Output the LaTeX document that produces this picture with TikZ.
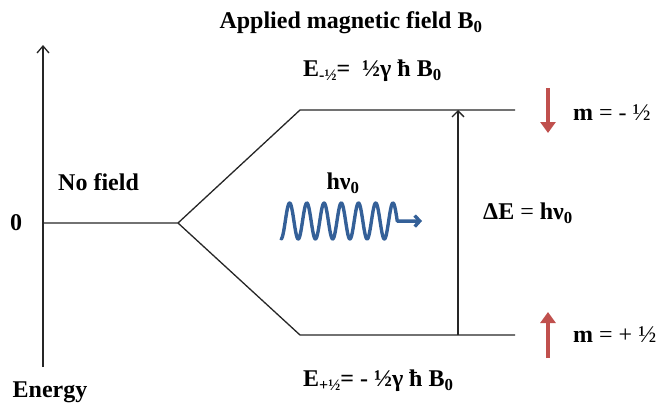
\documentclass[tikz,border=0pt]{standalone}
\usepackage{fontspec}
\setmainfont{Liberation Serif}
\usetikzlibrary{arrows.meta}
\definecolor{spinred}{RGB}{192,80,77}
\definecolor{waveblue}{RGB}{52,96,152}
\newcommand{\sub}[1]{\raisebox{-0.35ex}{\fontsize{16}{16}\selectfont #1}}
\begin{document}
\begin{tikzpicture}[x=1pt,y=-1pt,
  lvl/.style={line width=1.3pt, black!85},
  lbl/.style={inner sep=0pt, anchor=west, font=\bfseries\fontsize{24}{26}\selectfont},
  spinarrow/.style={line width=3.2pt, spinred, -{Triangle[length=11pt,width=15pt]}},
  wavestyle/.style={line width=3.4pt, waveblue, line cap=round, line join=round, -{Straight Barb[length=5pt,width=11pt]}}]
\useasboundingbox (0,0) rectangle (666,405);
% coordinates
\coordinate (axb) at (43,367);
\coordinate (axt) at (43,45);
\coordinate (z0) at (43,223);
\coordinate (split) at (178,223);
\coordinate (uk) at (300,110);
\coordinate (ue) at (515,110);
\coordinate (lk) at (300,335);
\coordinate (le) at (515,335);
\coordinate (dEb) at (458,335);
\coordinate (dEt) at (458,110);
\coordinate (dnA) at (548,88);
\coordinate (dnB) at (548,133);
\coordinate (upA) at (548,358);
\coordinate (upB) at (548,312);
\coordinate (wt) at (422,221);
% axis
\draw[lvl, -{Straight Barb[length=7pt,width=12pt]}] (axb) -- (axt);
% levels
\draw[lvl] (z0) -- (split) -- (uk) -- (ue);
\draw[lvl] (split) -- (lk) -- (le);
\draw[lvl, -{Straight Barb[length=6pt,width=12pt]}] (dEb) -- (dEt);
% spin arrows
\draw[spinarrow] (dnA) -- (dnB);
\draw[spinarrow] (upA) -- (upB);
% wave
\draw[wavestyle] plot[domain=0:116.3, samples=240] ({281+\x}, {221+18*cos(20.9*\x)}) -- (wt);
% labels
\node[lbl, anchor=center] (title) at (351,23) {Applied magnetic field B\textsubscript{0}};
\node[lbl] (eup) at (303,71) {E\sub{-½}= \ ½γ ħ B\textsubscript{0}};
\node[lbl] (elo) at (303,381) {E\sub{+½}= - ½γ ħ B\textsubscript{0}};
\node[lbl] (nofield) at (58,182) {No field};
\node[lbl] (zero) at (10,223) {0};
\node[lbl, anchor=center] (energy) at (50,392) {Energy};
\node[lbl, anchor=center] (hnu) at (343,183) {hν\textsubscript{0}};
\node[lbl] (dE) at (483,213) {ΔE \textmd{=} hν\textsubscript{0}};
\node[lbl] (mminus) at (573,113) {m \textmd{= - ½}};
\node[lbl] (mplus) at (573,335) {m \textmd{= + ½}};
\end{tikzpicture}
\end{document}
